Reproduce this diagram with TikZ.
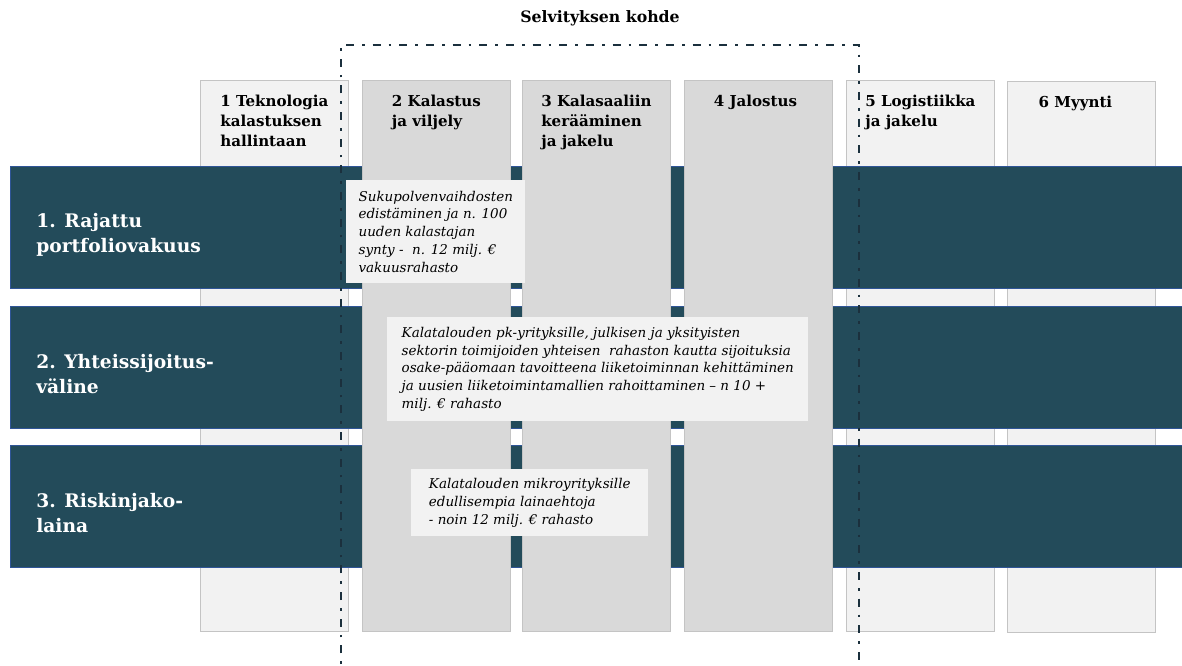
\documentclass[tikz,border=0pt]{standalone}
\usepackage{fontspec}
\setmainfont{DejaVu Serif}
\usepackage{tikz}
\usetikzlibrary{calc}

\definecolor{bandteal}{HTML}{234B5A}
\definecolor{bandedge}{HTML}{2F5597}
\definecolor{lightcol}{HTML}{F2F2F2}
\definecolor{darkcol}{HTML}{D9D9D9}
\definecolor{coledge}{HTML}{C4C4C4}
\definecolor{frameline}{HTML}{1B303D}

\begin{document}
\begin{tikzpicture}[x=0.75pt, y=-0.75pt]
        % Sizes in pixels of the reference
        \pgfmathsetmacro{\colw}{148}
        \pgfmathsetmacro{\colh}{551}
        \pgfmathsetmacro{\bandw}{1172}
        \pgfmathsetmacro{\bandh}{122}

        \tikzset{
            column/.style={draw=coledge, line width=0.6pt, anchor=north west, inner sep=0pt,
                minimum width=\colw*0.75pt, minimum height=\colh*0.75pt},
            lightcolumn/.style={column, fill=lightcol},
            darkcolumn/.style={column, fill=darkcol},
            colhead/.style={anchor=north, align=left, inner sep=0pt,
                font=\fontsize{11.3}{15}\selectfont\bfseries},
            band/.style={draw=bandedge, line width=0.7pt, fill=bandteal, anchor=north west,
                inner sep=0pt, minimum width=\bandw*0.75pt, minimum height=\bandh*0.75pt},
            rowlabel/.style={anchor=west, align=left, inner sep=0pt, text=white,
                font=\fontsize{14}{18.8}\selectfont\bfseries},
            infobox/.style={fill=lightcol, anchor=north west, align=left, inner sep=0pt,
                font=\fontsize{10.1}{13.4}\selectfont\itshape},
            frame/.style={draw=frameline, line width=1.8pt,
                dash pattern=on 6pt off 6pt on 2pt off 6pt},
        }

        % Page with the margins of the reference
        \fill[white] (0,0) rectangle (1182,666);
        \useasboundingbox (0,0) rectangle (1182,666);

        % Columns lying behind the bands
        \node[lightcolumn] (col1) at (200,80) {};
        \node[lightcolumn] (col5) at (846,80) {};
        \node[lightcolumn] (col6) at (1007,81) {};

        % Bands of the instruments
        \node[band] (row1) at (10,166) {};
        \node[band] (row2) at (10,306) {};
        \node[band] (row3) at (10,445) {};

        % Columns lying in front of the bands
        \node[darkcolumn] (col2) at (362,80) {};
        \node[darkcolumn] (col3) at (522,80) {};
        \node[darkcolumn] (col4) at (684,80) {};

        % Column headings
        \node[colhead] (head1) at ($(col1.north)+(0,15)$) {1 Teknologia\\kalastuksen\\hallintaan};
        \node[colhead] (head2) at ($(col2.north)+(0,15)$) {2 Kalastus\\ja viljely};
        \node[colhead] (head3) at ($(col3.north)+(0,15)$) {3 Kalasaaliin\\kerääminen\\ja jakelu};
        \node[colhead] (head4) at ($(col4.north)+(-3,15)$) {4 Jalostus};
        \node[colhead] (head5) at ($(col5.north)+(0,15)$) {5 Logistiikka\\ja jakelu};
        \node[colhead] (head6) at ($(col6.north)+(-6,15)$) {6 Myynti};

        % Row labels
        \node[rowlabel] (label1) at ($(row1.west)+(26,7)$) {1. Rajattu\\portfoliovakuus};
        \node[rowlabel] (label2) at ($(row2.west)+(26,7)$) {2. Yhteissijoitus-\\väline};
        \node[rowlabel] (label3) at ($(row3.west)+(26,7)$) {3. Riskinjako-\\laina};

        % Boxes of the measures
        \node[infobox, minimum width=134.25pt, minimum height=77.25pt] (box1) at (346,180)
            {Sukupolvenvaihdosten\\edistäminen ja n. 100\\uuden kalastajan\\synty -\ \ n. 12 milj. €\\vakuusrahasto};
        \node[infobox, minimum width=315.75pt, minimum height=78pt] (box2) at (387,317)
            {Kalatalouden pk-yrityksille, julkisen ja yksityisten\\sektorin toimijoiden yhteisen\ \ rahaston kautta sijoituksia\\osake-pääomaan tavoitteena liiketoiminnan kehittäminen\\ja uusien liiketoimintamallien rahoittaminen – n 10 +\\milj. € rahasto};
        \node[infobox, minimum width=177.75pt, minimum height=50.25pt] (box3) at (411,469)
            {Kalatalouden mikroyrityksille\\edullisempia lainaehtoja\\- noin 12 milj. € rahasto};

        % Frame round the subject of the study
        \coordinate (frameBL) at (341,680);
        \coordinate (frameTL) at (341,45);
        \coordinate (frameTR) at (859,45);
        \coordinate (frameBR) at (859,680);
        \draw[frame] (frameBL) -- (frameTL) -- (frameTR) -- (frameBR);

        \node[font=\fontsize{11.8}{14}\selectfont\bfseries] (title) at (600,18) {Selvityksen kohde};

\end{tikzpicture}
\end{document}
